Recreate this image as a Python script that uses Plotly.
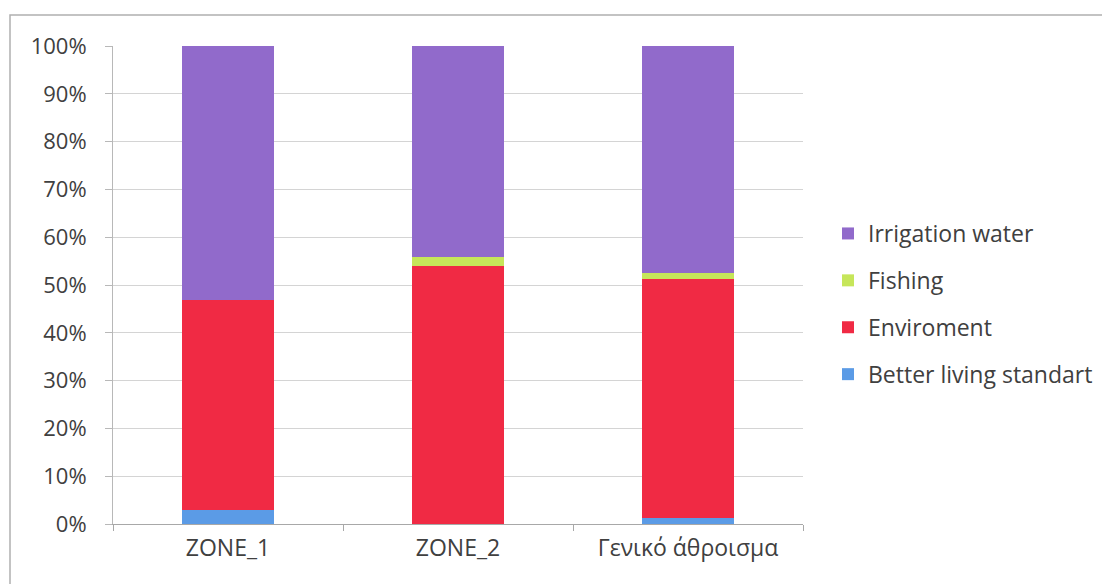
import plotly.graph_objects as go

categories = ["ZONE_1", "ZONE_2", "Γενικό άθροισμα"]
better_living = [2.9, 0.0, 1.2]
enviroment = [44.0, 54.0, 50.0]
fishing = [0.0, 1.9, 1.4]
irrigation = [53.1, 44.1, 47.4]

series = [
    ("Better living standart", better_living, "#5b9be6", 4),
    ("Enviroment", enviroment, "#f02a44", 3),
    ("Fishing", fishing, "#c6e65a", 2),
    ("Irrigation water", irrigation, "#916acb", 1),
]

fig = go.Figure()
for name, vals, color, rank in series:
    fig.add_trace(go.Bar(x=categories, y=vals, name=name, legendgroup=name,
                         legendrank=rank,
                         marker=dict(color=color, line=dict(width=0))))

OFF = 8  # page body offset
L, R, T, B = 113, 803, 46, 524  # target screen coords of the plot area
W, H = 1110, 584
pw, ph = R - L, B - T

def px(x):
    return (x - L) / pw

def py(y):
    return (B - y) / ph

txt = "#404040"
fig.update_layout(
    width=W, height=H,
    margin=dict(l=L - OFF, r=W - (R - OFF), t=T - OFF, b=H - (B - OFF)),
    barmode="stack", bargap=0.6,
    plot_bgcolor="white", paper_bgcolor="white",
    font=dict(family="Open Sans", color=txt, size=22),
    showlegend=True,
    legend=dict(x=px(828), y=py(212), xanchor="left", yanchor="top",
                traceorder="grouped", tracegroupgap=14,
                font=dict(size=23, color=txt), bgcolor="rgba(0,0,0,0)"),
    xaxis=dict(showline=True, linecolor="#a8a8a8", linewidth=1,
               ticks="outside", ticklen=6, tickcolor="#a8a8a8",
               tickson="boundaries", tickfont=dict(size=23, color=txt),
               ticklabelstandoff=3),
    yaxis=dict(range=[0, 100], dtick=10, ticksuffix="%",
               showline=True, linecolor="#b8b8b8", linewidth=1,
               ticks="outside", ticklen=7, tickcolor="#b8b8b8",
               gridcolor="#d4d4d4", gridwidth=1,
               tickfont=dict(size=22, color=txt), ticklabelstandoff=14),
    shapes=[dict(type="rect", xref="paper", yref="paper",
                 x0=px(10), y0=py(600), x1=px(1125), y1=py(15),
                 line=dict(color="#b0b0b0", width=1.5), layer="below")],
)

fig.write_html("out.html")
